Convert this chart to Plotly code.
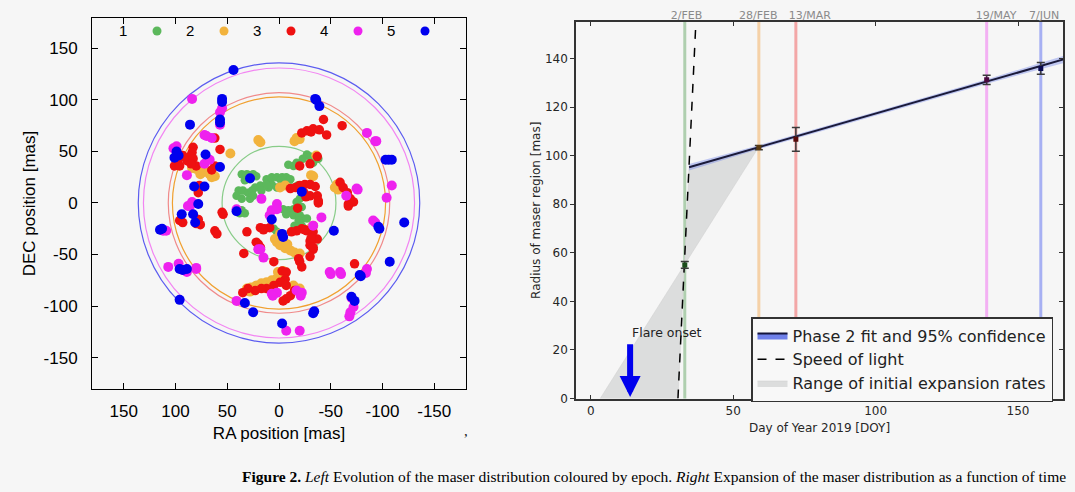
import plotly.graph_objects as go

# ---------------- Left panel: maser positions (RA, DEC in mas) ----------------
ep1_ra = [36, 31, 25, 22, 33, 28, 39, 35, 30, 26, 23, 41, 36, 28, 25, 18, 17,
          41, 36, 33, 38,
          12, 7, 2, -3, -7, 7, 10, 2, -3, 12, -11,
          -4, -9, -14, -19, -22, -7, -14, -20, -23, -19, -15, -22, -27, -17, -20,
          -27, -23, -30, -38, -33, -17, -14,
          2, 5,
          -18, -12, -9, -2]
ep1_dec = [28, 28, 28, 26, 22, 23, 12, 12, 10, 12, 15, 7, 4, 4, 7, 17, 12,
           -7, -7, -10, -10,
           23, 25, 25, 25, 25, 18, 15, 15, 18, 18, 23,
           -6, -7, -6, -3, -4, -11, -12, -12, -15, -17, -22, -22, -15, 1, 4,
           47, 43, 45, 43, 39, 39, 36,
           -28, -25,
           17, 15, 37, 22]

ep2_ra = [18, 20, 47, 84, 80, 73, 67, 62, 65, -1,
          -6, -17, -15, -20, -36, -33, -31, -56, -54, -57,
          -33, -30, 4, 2, -1, -6, -11, -15, -20, -1,
          -4, -8, 31, 27, 22, 17, 12, 7, 2, -3,
          28, -14, -20, 1, -4, 76, 70]
ep2_dec = [59, 61, 48, 34, 33, 30, 28, 26, 25, 15,
           17, 63, 60, 62, 46, 26, 27, 18, 15, 13,
           -22, -25, -35, -38, -41, -44, -46, -48, -49, -30,
           -36, -40, -83, -82, -80, -78, -77, -75, -73, -70,
           -86, -80, -83, -67, -66, 28, 31]

ep3_ra = [83, 84, 86, 93, 97, 101, 96, 89, 83, 80,
          85, 57, 62, 62, 78, 77, 78, 80, 96, 93,
          76, 62, 60, 55, 54, 31, 18, 14, 9, 34,
          22, 18, 20, 15, 5, -3, -7, -6, -1, 5,
          12, 17, 23, 30, 35, -7, -11, -7, -4, -19,
          -20, -22, -30, -33, -30, -37, -33, -27, -22, -17,
          -12, -18, -38, -67, -25, -31, -33, -30, -11, -16,
          -20, -25, -30, -35, -24, -30, -37, -38, -26, -20,
          -30, -37, -22, -27, -31, -33, -39, -46, -43, -61,
          -59, -62, -66, -69, -72, -67, -73, -15, 65]
ep3_dec = [54, 49, 45, 46, 43, 36, 36, 41, 43, 36,
           38, 52, 63, 36, 10, 17, -16, -20, -17, -19,
           -21, -27, -30, -9, -11, -28, -24, -25, -24, -49,
           -38, -43, -40, -26, -57, -66, -67, -74, -77, -80,
           -83, -83, -85, -83, -87, -80, -90, -93, -95, -54,
           -57, -62, -41, -45, -37, -35, -28, -27, -25, -27,
           -28, -5, 0, -1, -26, -34, -43, -52, 14, 15,
           17, 18, 18, 16, 10, 7, 7, 2, 6, 36,
           38, 45, 68, 70, 69, 72, 71, 66, 81, 75,
           20, 15, 10, 4, 1, -3, -59, -85, 32]

ep4_ra = [84, 55, 57, 57, 70, 65, 72, 102, 99, 89,
          72, 67, 41, 17, 2, 7, 9, -33, 86, 84,
          109, 112, 107, 97, 89, 80, 80, 18, 20, 15,
          7, 2, -17, -22, 41, -7, -20, -49, -59, -60,
          -69, -72, -68, -70, -85, -93, -94, -75, -76, -65,
          -109, -104, -91, -93, -85, -84, -41, -21, 6, 2,
          93, 88, -50]
ep4_dec = [101, 92, 88, 76, 65, 63, 66, 53, 55, 27,
           38, 42, -6, 4, -1, -7, -12, -22, -3, 1,
           -27, -27, -62, -59, -67, -63, -64, -45, -45, -53,
           -88, -87, -85, -87, -95, -124, -124, -67, -67, -69,
           -106, -101, -110, -92, 68, 60, 60, 14, 13, 7,
           17, 5, -17, -19, -64, -68, -14, -90, -90, -6,
           -65, -3, -69]

ep5_ra = [44, 55, 55, 57, 57, 86, 99, 101, 97, 71,
          57, 82, 72, 28, -22, 78, 94, 83, 81, 41,
          7, -3, -4, 115, 113, -53, -97, -96, -121, -103,
          -109, -106, -35, -36, -39, -107, -78, -79, -70, -73,
          -33, -34, -3, 25, 33, 96, 96, 89, 93]
ep5_dec = [129, 101, 98, 81, 78, 76, 50, 44, 46, 47,
           35, 16, 16, 24, 11, -1, -11, -11, -19, -8,
           -16, -30, -33, -26, -25, -27, -25, -23, -19, 42,
           42, 42, 101, 100, 94, -57, -70, -71, -91, -95,
           -107, -105, -117, -106, -97, -94, -64, -64, -65]

epoch_names = ["1", "2", "3", "4", "5"]
ring_radius = [55, 103, 107, 131, 136]          # mas, one ring per epoch
left_ticks = [150, 100, 50, 0, -50, -100, -150]
left_ticktext = ["150", "100", "50", "0", "-50", "-100", "-150"]

# ---------------- Right panel: expansion vs time ----------------
doy = [33, 59, 72, 139, 158]
radius = [55.0, 103.3, 106.7, 131.2, 135.9]
radius_err = [1.4, 0.9, 4.9, 1.9, 2.4]
date_labels = ["2/FEB", "28/FEB", "13/MAR", "19/MAY", "7/JUN"]
date_label_pos = [33.6, 58.8, 76.9, 142.3, 159.2]

fit_x = [34.5, 166]
fit_y = [95.2, 139.6]
band_x = [34.5, 60, 100, 140, 166]
band_lo = [93.9, 103.0, 116.6, 129.9, 138.1]
band_hi = [96.5, 104.6, 118.0, 131.7, 141.1]

light_x = [30.6, 36.9]
light_y = [0, 155]

range_x = [3.3, 30.6, 34.5, 59]
range_y = [0, 0, 95.2, 103.6]

flare_doy = 13.8
flare_top = 23

# ---------------- styles ----------------
W, H = 1075, 492
BG = "#f6f6f6"
dot_colors = ["#5cb85c", "#f2b33d", "#ee1111", "#ee22ee", "#0000ee"]
dot_sizes = [8.5, 10, 9.5, 10, 10]
ring_colors = ["#88cc88", "#f0a030", "#f08a8a", "#f285f2", "#5c5cf0"]
pt_colors = ["#1b4d1b", "#5a3a10", "#5a0a0a", "#4a0a40", "#0a0a50"]
vline_colors = ["rgba(70,150,70,0.40)", "rgba(245,165,70,0.45)",
                "rgba(240,70,70,0.45)", "rgba(240,90,240,0.45)",
                "rgba(70,90,240,0.45)"]
SANS = "Liberation Sans, Arial, sans-serif"
MPL = "DejaVu Sans, sans-serif"

fig = go.Figure()

epochs = [(ep1_ra, ep1_dec), (ep2_ra, ep2_dec), (ep3_ra, ep3_dec),
          (ep4_ra, ep4_dec), (ep5_ra, ep5_dec)]
for i, (ra, dec) in enumerate(epochs):
    fig.add_trace(go.Scatter(
        x=ra, y=dec, mode="markers", name=epoch_names[i], showlegend=False,
        marker=dict(color=dot_colors[i], size=dot_sizes[i], line=dict(width=0)),
        xaxis="x", yaxis="y"))

# right panel traces
fig.add_trace(go.Scatter(
    x=range_x + [range_x[0]], y=range_y + [range_y[0]], mode="lines",
    fill="toself", fillcolor="#dcdddd", line=dict(color="#cfcfcf", width=0.5),
    name="Range of initial expansion rates", legendrank=3,
    xaxis="x2", yaxis="y2", hoverinfo="skip"))

fig.add_trace(go.Scatter(
    x=band_x + band_x[::-1], y=band_hi + band_lo[::-1], mode="lines",
    fill="toself", fillcolor="rgba(110,130,235,0.40)", line=dict(width=0),
    showlegend=False, xaxis="x2", yaxis="y2", hoverinfo="skip"))

fig.add_trace(go.Scatter(
    x=fit_x, y=fit_y, mode="lines", line=dict(color="#1a1a3a", width=2),
    showlegend=False, xaxis="x2", yaxis="y2"))

fig.add_trace(go.Scatter(
    x=light_x, y=light_y, mode="lines",
    line=dict(color="black", width=1.5, dash="dash"),
    name="Speed of light", legendrank=2, xaxis="x2", yaxis="y2"))

fig.add_trace(go.Scatter(
    x=doy, y=radius, mode="markers", showlegend=False,
    marker=dict(symbol="square", size=5, color=pt_colors),
    error_y=dict(type="data", array=radius_err, color="#3a3a3a",
                 thickness=1.5, width=4),
    xaxis="x2", yaxis="y2"))

# legend entry for the phase-2 fit (patch + line)
fig.add_trace(go.Scatter(
    x=[None], y=[None], mode="lines", fill="toself", fillcolor="#6f80ea",
    line=dict(color="#14143c", width=2),
    name="Phase 2 fit and 95% confidence", legendrank=1,
    xaxis="x2", yaxis="y2"))

# carrier for the top date axis / right inner ticks
fig.add_trace(go.Scatter(x=[None], y=[None], showlegend=False,
                         xaxis="x3", yaxis="y3", hoverinfo="skip"))

shapes = []
for i, r in enumerate(ring_radius):
    shapes.append(dict(type="circle", xref="x", yref="y", x0=-r, x1=r,
                       y0=-r, y1=r, line=dict(color=ring_colors[i], width=1.2),
                       layer="below"))
for i, d in enumerate(doy):
    shapes.append(dict(type="line", xref="x2", yref="y2 domain", x0=d, x1=d,
                       y0=0, y1=1, line=dict(color=vline_colors[i], width=3),
                       layer="below"))

# left-panel key: label then dot
key_label_px = [123, 190, 257, 324, 391]
key_dot_px = [157, 224, 291, 358, 425]
key_y = 1 - 31 / H
annotations = []
for i in range(5):
    annotations.append(dict(text=epoch_names[i], xref="paper", yref="paper",
                            x=key_label_px[i] / W, y=key_y, showarrow=False,
                            xanchor="center", yanchor="middle",
                            font=dict(family=SANS, size=15, color="black")))
    shapes.append(dict(type="circle", xref="paper", yref="paper",
                       xsizemode="pixel", ysizemode="pixel",
                       xanchor=key_dot_px[i] / W, yanchor=key_y,
                       x0=-4.5, x1=4.5, y0=-4.5, y1=4.5,
                       fillcolor=dot_colors[i], line=dict(width=0)))

annotations += [
    dict(text="", x=flare_doy, y=0.6, ax=flare_doy, ay=flare_top,
         xref="x2", yref="y2", axref="x2", ayref="y2", showarrow=True,
         arrowhead=2, arrowsize=0.7, arrowwidth=6, arrowcolor="#0000ee"),
    dict(text="Flare onset", x=26.8, y=27, xref="x2", yref="y2",
         showarrow=False, font=dict(family=MPL, size=12.5, color="#222")),
    dict(text=",", x=466 / W, y=1 - 441 / H, xref="paper", yref="paper",
         showarrow=False, font=dict(family="Liberation Serif", size=15, color="#222")),
    dict(text="<b>Figure 2.</b> <i>Left</i> Evolution of the maser distribution "
              "coloured by epoch. <i>Right</i> Expansion of the maser distribution "
              "as a function of time",
         x=240 / W, y=1 - 476 / H, xref="paper", yref="paper", showarrow=False,
         xanchor="left", yanchor="middle",
         font=dict(family="Liberation Serif, Times New Roman, serif", size=15.5,
                   color="black")),
]

left_axis = dict(showline=True, linecolor="black", linewidth=1, mirror="ticks",
                 ticks="inside", ticklen=6, tickcolor="black", showgrid=False,
                 zeroline=False, tickvals=left_ticks, ticktext=left_ticktext,
                 automargin=False,
                 tickfont=dict(family=SANS, size=17, color="black"))

fig.update_layout(
    width=W, height=H, autosize=False,
    margin=dict(l=0, r=0, t=0, b=0),
    paper_bgcolor=BG, plot_bgcolor=BG,
    shapes=shapes, annotations=annotations,
    xaxis=dict(left_axis, domain=[92 / W, 466 / W], range=[180.7, -180.7],
               anchor="y", ticklabelstandoff=7,
               title=dict(text="RA position [mas]", standoff=6,
                          font=dict(family=SANS, size=17, color="black"))),
    yaxis=dict(left_axis, domain=[1 - 389 / H, 1 - 18 / H], range=[-180.5, 179.5],
               anchor="x", ticklabelstandoff=10,
               title=dict(text="DEC position [mas]", standoff=3,
                          font=dict(family=SANS, size=17, color="black"))),
    xaxis2=dict(domain=[576 / W, 1063 / W], range=[-5.2, 165.8], anchor="y2",
                showline=True, linecolor="#333", linewidth=1.5, mirror="ticks",
                ticks="inside", ticklen=4, tickcolor="#333", showgrid=False,
                zeroline=False, tickvals=[0, 50, 100, 150], automargin=False,
                tickfont=dict(family=MPL, size=12, color="#262626"),
                title=dict(text="Day of Year 2019 [DOY]", standoff=7,
                           font=dict(family=MPL, size=12, color="#262626"))),
    yaxis2=dict(domain=[1 - 398.5 / H, 1 - 22 / H], range=[0, 155], anchor="x2",
                showline=True, linecolor="#333", linewidth=1.5, mirror=True,
                ticks="outside", ticklen=4, tickcolor="#333", showgrid=False,
                zeroline=False, tickvals=[0, 20, 40, 60, 80, 100, 120, 140],
                automargin=False,
                tickfont=dict(family=MPL, size=12, color="#262626"),
                title=dict(text="Radius of maser region [mas]", standoff=2,
                           font=dict(family=MPL, size=12, color="#262626"))),
    xaxis3=dict(overlaying="x2", side="top", anchor="y2", range=[-5.2, 165.8],
                showgrid=False, zeroline=False, showline=False, ticks="",
                tickvals=date_label_pos, ticktext=date_labels, tickangle=0,
                automargin=False,
                tickfont=dict(family=MPL, size=11, color="#8a8a8a")),
    yaxis3=dict(overlaying="y2", side="right", anchor="x2", range=[0, 155],
                showgrid=False, zeroline=False, showline=False,
                ticks="inside", ticklen=4, tickcolor="#333", automargin=False,
                tickvals=[0, 20, 40, 60, 80, 100, 120, 140], showticklabels=False),
    showlegend=True,
    legend=dict(x=751 / W, y=1 - 317 / H, xanchor="left", yanchor="top",
                bgcolor="#f8f8f8", bordercolor="#333", borderwidth=1.5,
                font=dict(family=MPL, size=16, color="#222"),
                traceorder="normal"),
)

fig.write_html("out.html",
               config={"displayModeBar": False},
               post_script="document.body.style.margin='0';"
                           "document.body.style.background='#f6f6f6';")
